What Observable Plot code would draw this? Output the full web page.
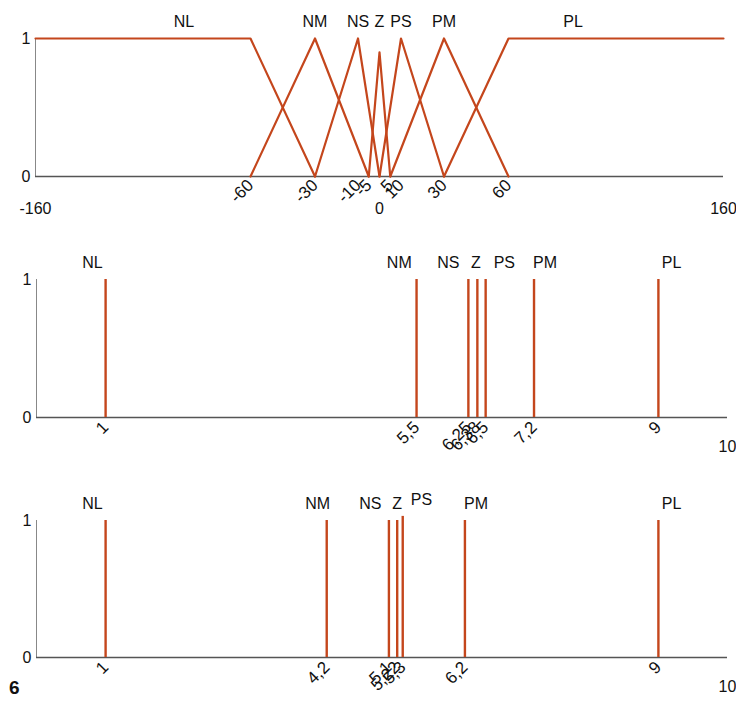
<!DOCTYPE html>
<html>
<head>
<meta charset="utf-8">
<script src="https://cdn.jsdelivr.net/npm/d3@7"></script>
<script src="https://cdn.jsdelivr.net/npm/@observablehq/plot@0.6"></script>
<style>
  html, body { margin: 0; padding: 0; background: #fff; }
  #wrap { position: relative; width: 736px; height: 702px; }
  #wrap svg { display: block; }
  #fig { position: absolute; left: 9px; top: 677px; font: bold 19px "Liberation Sans Narrow", "Liberation Sans", sans-serif; color: #111; }
</style>
</head>
<body>
<div id="wrap"></div>
<script>
// ---------- Panel 1: triangular / trapezoidal membership functions ----------
const setNames = ["NL", "NM", "NS", "Z", "PS", "PM", "PL"];
const NL_x = [-160, -60, -30], NL_mu = [1, 1, 0];
const NM_x = [-60, -30, -5],   NM_mu = [0, 1, 0];
const NS_x = [-30, -10, 0],    NS_mu = [0, 1, 0];
const Z_x  = [-5, 0, 5],       Z_mu  = [0, 0.9, 0];
const PS_x = [0, 10, 30],      PS_mu = [0, 1, 0];
const PM_x = [5, 30, 60],      PM_mu = [0, 1, 0];
const PL_x = [30, 60, 160],    PL_mu = [0, 1, 1];
const topLabelX = [-91, -30, -10, 0, 10, 30, 90];
const topTicks = [-60, -30, -10, -5, 5, 10, 30, 60];
const topEndTicks = [-160, 0, 160];

// ---------- Panel 2: singletons ----------
const mid_x = [1, 5.5, 6.25, 6.38, 6.5, 7.2, 9];
const mid_mu = [1, 1, 1, 1, 1, 1, 1];
const mid_tickLabels = ["1", "5,5", "6,25", "6,38", "6,5", "7,2", "9"];
const mid_labelX = [0.81, 5.25, 5.96, 6.36, 6.77, 7.36, 9.19];
const mid_labelY = [1, 1, 1, 1, 1, 1, 1];

// ---------- Panel 3: singletons ----------
const bot_x = [1, 4.2, 5.1, 5.22, 5.3, 6.2, 9];
const bot_mu = [1, 1, 1, 1, 1.03, 1, 1];
const bot_tickLabels = ["1", "4,2", "5,1", "5,22", "5,3", "6,2", "9"];
const bot_labelX = [0.81, 4.07, 4.83, 5.22, 5.57, 6.36, 9.19];
const bot_labelY = [1, 1, 1, 1, 1.03, 1, 1];

const C = "#c4461c";
const FONT = "Liberation Sans, Arial, sans-serif";
const FS = 16;
const TFS = 17;
const wrap = document.getElementById("wrap");

// build panel 1 rows
const shapes = [[NL_x, NL_mu], [NM_x, NM_mu], [NS_x, NS_mu], [Z_x, Z_mu], [PS_x, PS_mu], [PM_x, PM_mu], [PL_x, PL_mu]];
const rows = [];
shapes.forEach(([xs, ms], i) => xs.forEach((x, j) => rows.push({set: setNames[i], x, mu: ms[j]})));

const yAxis = () => Plot.axisY({ticks: [0, 1], tickFormat: d => String(d), tickSize: 0, tickPadding: 5, fontSize: FS, fill: "#111", label: null});

const p1 = Plot.plot({
  width: 736, height: 225,
  marginLeft: 35, marginRight: 13, marginTop: 38, marginBottom: 49,
  style: {fontFamily: FONT, fontSize: FS + "px", color: "#111", background: "transparent"},
  x: {domain: [-160, 160]},
  y: {domain: [0, 1]},
  marks: [
    Plot.axisX({ticks: topTicks, tickSize: 0, tickRotate: -45, tickPadding: 6, fontSize: TFS, fill: "#111", tickFormat: d => String(d), label: null}),
    yAxis(),
    Plot.ruleX([-160], {y1: 0, y2: 1, stroke: "#888", strokeWidth: 1}),
    Plot.ruleY([0], {stroke: "#555", strokeWidth: 1.6}),
    Plot.line(rows, {x: "x", y: "mu", z: "set", stroke: C, strokeWidth: 2.2}),
    Plot.text(setNames, {x: (d, i) => topLabelX[i], y: () => 1, dy: -17, text: d => d, fill: "#111", fontSize: FS}),
    Plot.text(topEndTicks, {x: d => d, y: () => 0, dy: 32, text: d => String(d), fill: "#111", fontSize: FS})
  ]
});
wrap.appendChild(p1);

function singletonPanel(xs, mus, tickLabels, labelX, labelY, height, mTop, mBottom) {
  const data = xs.map((x, i) => ({x, mu: mus[i], name: setNames[i], lx: labelX[i], ly: labelY[i]}));
  return Plot.plot({
    width: 736, height,
    marginLeft: 36, marginRight: 9, marginTop: mTop, marginBottom: mBottom,
    style: {fontFamily: FONT, fontSize: FS + "px", color: "#111", background: "transparent"},
    x: {domain: [0, 10]},
    y: {domain: [0, 1]},
    marks: [
      Plot.axisX({ticks: xs, tickSize: 0, tickRotate: -45, tickPadding: 7, fontSize: TFS, fill: "#111", tickFormat: (d, i) => tickLabels[i], label: null}),
      yAxis(),
      Plot.ruleX([0], {y1: 0, y2: 1, stroke: "#888", strokeWidth: 1}),
      Plot.ruleY([0], {stroke: "#555", strokeWidth: 1.6}),
      Plot.ruleX(data, {x: "x", y1: 0, y2: "mu", stroke: C, strokeWidth: 2.4}),
      Plot.text(data, {x: "lx", y: "ly", dy: -17, text: "name", fill: "#111", fontSize: FS}),
      Plot.text([10], {x: d => d, y: () => 0, dy: 29, text: d => String(d), fill: "#111", fontSize: FS})
    ]
  });
}

wrap.appendChild(singletonPanel(mid_x, mid_mu, mid_tickLabels, mid_labelX, mid_labelY, 240, 54, 48));
wrap.appendChild(singletonPanel(bot_x, bot_mu, bot_tickLabels, bot_labelX, bot_labelY, 237, 55, 45));

const fig = document.createElement("div");
fig.id = "fig";
fig.textContent = "6";
wrap.appendChild(fig);
</script>
</body>
</html>
